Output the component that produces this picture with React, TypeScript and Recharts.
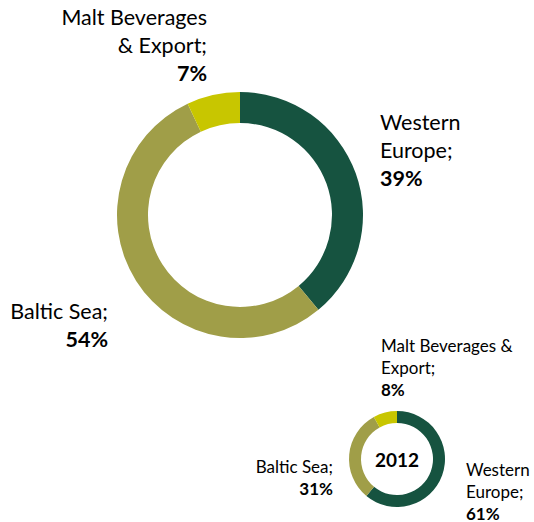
import React from 'react';
import { PieChart, Pie, Cell } from 'recharts';

// segment names and colours
const segments = ['Western Europe', 'Baltic Sea', 'Malt Beverages & Export'];
const segmentColors = ['#165340', '#A09E48', '#C8C600'];

// big ring (current year) and small ring (2012), percent of total
const sharesMain = [39, 54, 7];
const shares2012 = [61, 31, 8];
const smallYearLabel = '2012';

// label text, broken into lines as in the original
const mainLabelLines = [['Western', 'Europe;'], ['Baltic Sea;'], ['Malt Beverages', '& Export;']];
const smallLabelLines = [['Western', 'Europe;'], ['Baltic Sea;'], ['Malt Beverages &', 'Export;']];

const FONT = 'Lato, "Open Sans", sans-serif';

const mainData = segments.map((name, i) => ({ name, value: sharesMain[i] }));
const smallData = segments.map((name, i) => ({ name, value: shares2012[i] }));

// where each label block sits, relative to its ring's centre
type Place = { dx: number; dy: number; anchor: 'start' | 'end' };
const mainPlaces: Place[] = [
  { dx: 140, dy: -93, anchor: 'start' },
  { dx: -132, dy: 96, anchor: 'end' },
  { dx: -33, dy: -198, anchor: 'end' },
];
const smallPlaces: Place[] = [
  { dx: 69, dy: 10, anchor: 'start' },
  { dx: -64, dy: 7, anchor: 'end' },
  { dx: -16, dy: -114, anchor: 'start' },
];

const makeLabel = (
  lines: string[][],
  places: Place[],
  fontSize: number,
  lineHeight: number,
  centreText?: string
) =>
  (props: any) => {
    const { cx, cy, index, value } = props;
    const p = places[index];
    const x = cx + p.dx;
    const rows = [...lines[index], `${value}%`];
    return (
      <g>
        <text x={x} y={cy + p.dy} textAnchor={p.anchor} fontFamily={FONT} fontSize={fontSize} fill="#000">
          {rows.map((t, k) => (
            <tspan
              key={k}
              x={x}
              y={cy + p.dy + k * lineHeight}
              dominantBaseline="central"
              fontWeight={k === rows.length - 1 ? 700 : 400}
            >
              {t}
            </tspan>
          ))}
        </text>
        {centreText && index === 0 && (
          <text
            x={cx}
            y={cy}
            textAnchor="middle"
            dominantBaseline="central"
            fontFamily={FONT}
            fontSize={19}
            fontWeight={700}
            fill="#000"
          >
            {centreText}
          </text>
        )}
      </g>
    );
  };

export default function App() {
  return (
    <div style={{ position: 'absolute', left: 0, top: 0, background: '#fff' }}>
      <PieChart width={534} height={522} margin={{ top: 0, right: 0, bottom: 0, left: 0 }}>
        <Pie
          data={mainData}
          dataKey="value"
          cx={240}
          cy={215}
          innerRadius={92}
          outerRadius={123}
          startAngle={90}
          endAngle={-270}
          stroke="none"
          labelLine={false}
          label={makeLabel(mainLabelLines, mainPlaces, 21.5, 28)}
          isAnimationActive={false}
        >
          {mainData.map((d, i) => (
            <Cell key={d.name} fill={segmentColors[i]} />
          ))}
        </Pie>
        <Pie
          data={smallData}
          dataKey="value"
          cx={397}
          cy={459}
          innerRadius={36}
          outerRadius={48}
          startAngle={90}
          endAngle={-270}
          stroke="none"
          labelLine={false}
          label={makeLabel(smallLabelLines, smallPlaces, 17, 22, smallYearLabel)}
          isAnimationActive={false}
        >
          {smallData.map((d, i) => (
            <Cell key={d.name} fill={segmentColors[i]} />
          ))}
        </Pie>
      </PieChart>
    </div>
  );
}
